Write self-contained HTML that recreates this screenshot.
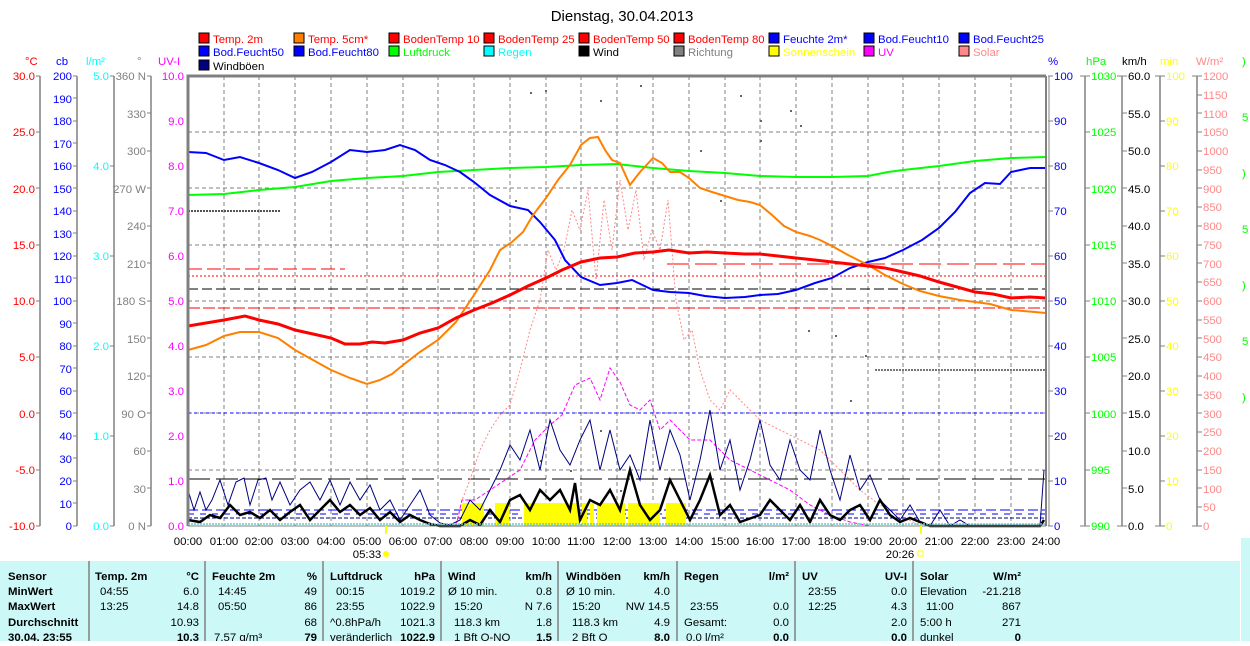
<!DOCTYPE html>
<html><head><meta charset="utf-8"><style>
body{margin:0;width:1250px;height:641px;overflow:hidden;background:#fff;font-family:"Liberation Sans",sans-serif}
svg text{font-family:"Liberation Sans",sans-serif;font-size:11.4px}
</style></head><body>
<svg width="1250" height="641" xmlns="http://www.w3.org/2000/svg">
<text x="622" y="21" text-anchor="middle" style="font-size:15px">Dienstag, 30.04.2013</text>
<!-- legend -->
<g stroke="#000" stroke-width="1">
<rect x="199" y="33" width="10" height="10" fill="#f00"/><rect x="294" y="33" width="10" height="10" fill="#ff8000"/><rect x="389" y="33" width="10" height="10" fill="#f00"/><rect x="484" y="33" width="10" height="10" fill="#f00"/><rect x="579" y="33" width="10" height="10" fill="#f00"/><rect x="674" y="33" width="10" height="10" fill="#f00"/><rect x="769" y="33" width="10" height="10" fill="#00f"/><rect x="864" y="33" width="10" height="10" fill="#00f"/><rect x="959" y="33" width="10" height="10" fill="#00f"/>
<rect x="199" y="46" width="10" height="10" fill="#00f"/><rect x="294" y="46" width="10" height="10" fill="#00f"/><rect x="389" y="46" width="10" height="10" fill="#0f0"/><rect x="484" y="46" width="10" height="10" fill="#0ff"/><rect x="579" y="46" width="10" height="10" fill="#000"/><rect x="674" y="46" width="10" height="10" fill="#808080"/><rect x="769" y="46" width="10" height="10" fill="#ff0"/><rect x="864" y="46" width="10" height="10" fill="#f0f"/><rect x="959" y="46" width="10" height="10" fill="#f88"/>
<rect x="199" y="60" width="10" height="10" fill="#000080"/>
</g>
<g>
<text x="213" y="43" fill="#f00">Temp. 2m</text><text x="308" y="43" fill="#f00">Temp. 5cm*</text><text x="403" y="43" fill="#f00">BodenTemp 10</text><text x="498" y="43" fill="#f00">BodenTemp 25</text><text x="593" y="43" fill="#f00">BodenTemp 50</text><text x="688" y="43" fill="#f00">BodenTemp 80</text><text x="783" y="43" fill="#00f">Feuchte 2m*</text><text x="878" y="43" fill="#00f">Bod.Feucht10</text><text x="973" y="43" fill="#00f">Bod.Feucht25</text>
<text x="213" y="56" fill="#00f">Bod.Feucht50</text><text x="308" y="56" fill="#00f">Bod.Feucht80</text><text x="403" y="56" fill="#0f0">Luftdruck</text><text x="498" y="56" fill="#0ff">Regen</text><text x="593" y="56" fill="#000">Wind</text><text x="688" y="56" fill="#808080">Richtung</text><text x="783" y="56" fill="#ff0">Sonnenschein</text><text x="878" y="56" fill="#f0f">UV</text><text x="973" y="56" fill="#f88">Solar</text>
<text x="213" y="70" fill="#000">Windböen</text>
</g>
<!-- unit labels -->
<text x="25" y="65" fill="#f00">°C</text><text x="56" y="65" fill="#00f">cb</text><text x="86" y="65" fill="#0ff">l/m²</text><text x="137" y="65" fill="#808080">°</text><text x="158" y="65" fill="#f0f">UV-I</text>
<text x="1048" y="65" fill="#00f">%</text><text x="1086" y="65" fill="#0f0">hPa</text><text x="1122" y="65" fill="#000">km/h</text><text x="1160" y="65" fill="#ff0">min</text><text x="1196" y="65" fill="#f88">W/m²</text>
<text x="1242" y="65" fill="#0f0">)</text><text x="1242" y="121" fill="#0f0">5</text><text x="1242" y="177" fill="#0f0">)</text><text x="1242" y="233" fill="#0f0">5</text><text x="1242" y="289" fill="#0f0">)</text><text x="1242" y="345" fill="#0f0">5</text><text x="1242" y="401" fill="#0f0">)</text>
<!-- axis lines -->
<g stroke="#808080" stroke-width="1.5">
<line x1="40" y1="76" x2="40" y2="526"/><line x1="77" y1="76" x2="77" y2="526"/><line x1="114" y1="76" x2="114" y2="526"/><line x1="151" y1="76" x2="151" y2="526"/>
<line x1="1085" y1="76" x2="1085" y2="526"/><line x1="1122" y1="76" x2="1122" y2="526"/><line x1="1160" y1="76" x2="1160" y2="526"/><line x1="1197" y1="76" x2="1197" y2="526"/>
</g>
<!-- plot grid -->
<g stroke="#808080" stroke-width="1" stroke-dasharray="4,3">
<line x1="188" y1="132" x2="1046" y2="132"/><line x1="188" y1="188" x2="1046" y2="188"/><line x1="188" y1="245" x2="1046" y2="245"/><line x1="188" y1="301" x2="1046" y2="301"/><line x1="188" y1="357" x2="1046" y2="357"/><line x1="188" y1="413" x2="1046" y2="413"/><line x1="188" y1="470" x2="1046" y2="470"/>
<line x1="224" y1="76" x2="224" y2="526"/><line x1="259" y1="76" x2="259" y2="526"/><line x1="295" y1="76" x2="295" y2="526"/><line x1="331" y1="76" x2="331" y2="526"/><line x1="367" y1="76" x2="367" y2="526"/><line x1="403" y1="76" x2="403" y2="526"/><line x1="438" y1="76" x2="438" y2="526"/><line x1="474" y1="76" x2="474" y2="526"/><line x1="510" y1="76" x2="510" y2="526"/><line x1="546" y1="76" x2="546" y2="526"/><line x1="581" y1="76" x2="581" y2="526"/><line x1="617" y1="76" x2="617" y2="526"/><line x1="653" y1="76" x2="653" y2="526"/><line x1="689" y1="76" x2="689" y2="526"/><line x1="725" y1="76" x2="725" y2="526"/><line x1="760" y1="76" x2="760" y2="526"/><line x1="796" y1="76" x2="796" y2="526"/><line x1="832" y1="76" x2="832" y2="526"/><line x1="868" y1="76" x2="868" y2="526"/><line x1="903" y1="76" x2="903" y2="526"/><line x1="939" y1="76" x2="939" y2="526"/><line x1="975" y1="76" x2="975" y2="526"/><line x1="1011" y1="76" x2="1011" y2="526"/>
</g>
<!-- ticks & labels left -->
<g text-anchor="end">
<g fill="#f00"><text x="35" y="80">30.0</text><text x="35" y="136">25.0</text><text x="35" y="193">20.0</text><text x="35" y="249">15.0</text><text x="35" y="305">10.0</text><text x="35" y="361">5.0</text><text x="35" y="418">0.0</text><text x="35" y="474">-5.0</text><text x="35" y="530">-10.0</text></g>
<g fill="#00f"><text x="72" y="80">200</text><text x="72" y="103">190</text><text x="72" y="125">180</text><text x="72" y="148">170</text><text x="72" y="170">160</text><text x="72" y="193">150</text><text x="72" y="215">140</text><text x="72" y="238">130</text><text x="72" y="260">120</text><text x="72" y="283">110</text><text x="72" y="305">100</text><text x="72" y="328">90</text><text x="72" y="350">80</text><text x="72" y="373">70</text><text x="72" y="395">60</text><text x="72" y="418">50</text><text x="72" y="440">40</text><text x="72" y="463">30</text><text x="72" y="485">20</text><text x="72" y="508">10</text><text x="72" y="530">0</text></g>
<g fill="#0ff"><text x="109" y="80">5.0</text><text x="109" y="170">4.0</text><text x="109" y="260">3.0</text><text x="109" y="350">2.0</text><text x="109" y="440">1.0</text><text x="109" y="530">0.0</text></g>
<g fill="#808080"><text x="146" y="80">360 N</text><text x="146" y="118">330</text><text x="146" y="155">300</text><text x="146" y="193">270 W</text><text x="146" y="230">240</text><text x="146" y="268">210</text><text x="146" y="305">180 S</text><text x="146" y="343">150</text><text x="146" y="380">120</text><text x="146" y="418">90  O</text><text x="146" y="455">60</text><text x="146" y="493">30</text><text x="146" y="530">0   N</text></g>
<g fill="#f0f"><text x="184" y="80">10.0</text><text x="184" y="125">9.0</text><text x="184" y="170">8.0</text><text x="184" y="215">7.0</text><text x="184" y="260">6.0</text><text x="184" y="305">5.0</text><text x="184" y="350">4.0</text><text x="184" y="395">3.0</text><text x="184" y="440">2.0</text><text x="184" y="485">1.0</text><text x="184" y="530">0.0</text></g>
</g>
<g>
<g fill="#00f"><text x="1054" y="80">100</text><text x="1054" y="125">90</text><text x="1054" y="170">80</text><text x="1054" y="215">70</text><text x="1054" y="260">60</text><text x="1054" y="305">50</text><text x="1054" y="350">40</text><text x="1054" y="395">30</text><text x="1054" y="440">20</text><text x="1054" y="485">10</text><text x="1054" y="530">0</text></g>
<g fill="#0f0"><text x="1091" y="80">1030</text><text x="1091" y="136">1025</text><text x="1091" y="193">1020</text><text x="1091" y="249">1015</text><text x="1091" y="305">1010</text><text x="1091" y="361">1005</text><text x="1091" y="418">1000</text><text x="1091" y="474">995</text><text x="1091" y="530">990</text></g>
<g fill="#000"><text x="1128" y="80">60.0</text><text x="1128" y="118">55.0</text><text x="1128" y="155">50.0</text><text x="1128" y="193">45.0</text><text x="1128" y="230">40.0</text><text x="1128" y="268">35.0</text><text x="1128" y="305">30.0</text><text x="1128" y="343">25.0</text><text x="1128" y="380">20.0</text><text x="1128" y="418">15.0</text><text x="1128" y="455">10.0</text><text x="1128" y="493">5.0</text><text x="1128" y="530">0.0</text></g>
<g fill="#ff0"><text x="1166" y="80">100</text><text x="1166" y="125">90</text><text x="1166" y="170">80</text><text x="1166" y="215">70</text><text x="1166" y="260">60</text><text x="1166" y="305">50</text><text x="1166" y="350">40</text><text x="1166" y="395">30</text><text x="1166" y="440">20</text><text x="1166" y="485">10</text><text x="1166" y="530">0</text></g>
<g fill="#f88"><text x="1203" y="80">1200</text><text x="1203" y="99">1150</text><text x="1203" y="118">1100</text><text x="1203" y="136">1050</text><text x="1203" y="155">1000</text><text x="1203" y="174">950</text><text x="1203" y="193">900</text><text x="1203" y="211">850</text><text x="1203" y="230">800</text><text x="1203" y="249">750</text><text x="1203" y="268">700</text><text x="1203" y="286">650</text><text x="1203" y="305">600</text><text x="1203" y="324">550</text><text x="1203" y="343">500</text><text x="1203" y="361">450</text><text x="1203" y="380">400</text><text x="1203" y="399">350</text><text x="1203" y="418">300</text><text x="1203" y="436">250</text><text x="1203" y="455">200</text><text x="1203" y="474">150</text><text x="1203" y="493">100</text><text x="1203" y="511">50</text><text x="1203" y="530">0</text></g>
</g>
<!-- tick marks -->
<g stroke="#808080" stroke-width="1">
<path d="M36 76h4M36 132h4M36 188h4M36 245h4M36 301h4M36 357h4M36 413h4M36 470h4M36 526h4"/>
<path d="M73 76h4M73 98h4M73 121h4M73 143h4M73 166h4M73 188h4M73 211h4M73 233h4M73 256h4M73 278h4M73 301h4M73 323h4M73 346h4M73 368h4M73 391h4M73 413h4M73 436h4M73 458h4M73 481h4M73 503h4M73 526h4"/>
<path d="M110 76h4M110 166h4M110 256h4M110 346h4M110 436h4M110 526h4"/>
<path d="M147 76h4M147 113h4M147 151h4M147 188h4M147 226h4M147 263h4M147 301h4M147 338h4M147 376h4M147 413h4M147 451h4M147 488h4M147 526h4"/>
<path d="M1048 76h5M1048 121h5M1048 166h5M1048 211h5M1048 256h5M1048 301h5M1048 346h5M1048 391h5M1048 436h5M1048 481h5M1048 526h5"/>
<path d="M1080 76h10M1085 132h5M1085 188h5M1085 245h5M1085 301h5M1085 357h5M1085 413h5M1085 470h5M1080 526h10"/>
<path d="M1117 76h10M1122 113h5M1122 151h5M1122 188h5M1122 226h5M1122 263h5M1122 301h5M1122 338h5M1122 376h5M1122 413h5M1122 451h5M1122 488h5M1117 526h10"/>
<path d="M1155 76h10M1160 121h5M1160 166h5M1160 211h5M1160 256h5M1160 301h5M1160 346h5M1160 391h5M1160 436h5M1160 481h5M1155 526h10"/>
<path d="M1192 76h10M1197 95h5M1197 113h5M1197 132h5M1197 151h5M1197 170h5M1197 188h5M1197 207h5M1197 226h5M1197 245h5M1197 263h5M1197 282h5M1197 301h5M1197 320h5M1197 338h5M1197 357h5M1197 376h5M1197 395h5M1197 413h5M1197 432h5M1197 451h5M1197 470h5M1197 488h5M1197 507h5M1192 526h10"/>
</g>
<!-- reference horizontal lines -->
<line x1="188" y1="413" x2="1046" y2="413" stroke="#00f" stroke-dasharray="3,3"/>
<line x1="188" y1="479" x2="1046" y2="479" stroke="#000" stroke-dasharray="22,6"/>
<line x1="188" y1="510" x2="1046" y2="510" stroke="#00f" stroke-dasharray="10,4"/>
<line x1="188" y1="514" x2="1046" y2="514" stroke="#00f" stroke-dasharray="6,6"/>
<line x1="188" y1="518" x2="1046" y2="518" stroke="#000080" stroke-dasharray="4,2"/>
<line x1="188" y1="269" x2="345" y2="269" stroke="#f00" stroke-dasharray="14,5"/>
<line x1="667" y1="264" x2="1046" y2="264" stroke="#f00" stroke-dasharray="22,6"/>
<line x1="188" y1="276" x2="1046" y2="276" stroke="#f00" stroke-dasharray="2,2"/>
<line x1="188" y1="289" x2="1046" y2="289" stroke="#000" stroke-dasharray="10,4"/>
<line x1="188" y1="308" x2="1046" y2="308" stroke="#f00" stroke-dasharray="12,3"/>
<line x1="188" y1="211" x2="280" y2="211" stroke="#555" stroke-dasharray="2,1" stroke-width="2"/>
<line x1="875" y1="370" x2="1046" y2="370" stroke="#777" stroke-dasharray="2,1" stroke-width="2"/>
<!-- sunshine -->
<g fill="#ff0">
<rect x="462" y="503" width="22" height="23"/><rect x="495" y="503" width="14" height="23"/><rect x="524" y="503" width="55" height="23"/><rect x="582" y="503" width="5" height="23"/><rect x="590" y="503" width="4" height="23"/><rect x="597" y="503" width="28" height="23"/><rect x="628" y="503" width="32" height="23"/><rect x="666" y="503" width="20" height="23"/>
</g>
<!-- solar -->
<polyline fill="none" stroke="#f88" stroke-dasharray="2,2" points="456,526 462,500 470,480 480,450 490,430 500,415 510,405 520,370 530,330 540,300 548,250 556,270 564,250 572,210 580,230 588,190 596,280 604,200 612,250 620,180 628,230 636,190 644,260 652,230 660,250 668,200 676,300 684,340 692,330 700,370 710,400 720,410 730,390 740,400 760,420 780,430 800,440 820,450 840,470 860,490 880,505 900,515 920,526"/>
<!-- UV -->
<polyline fill="none" stroke="#f0f" stroke-dasharray="4,2" points="456,526 462,500 475,500 490,490 505,480 520,470 535,440 550,425 562,415 575,385 590,378 600,400 610,368 620,382 630,405 640,410 650,400 660,430 670,420 690,440 710,440 730,460 750,470 770,480 790,490 810,505 830,515 850,522 870,526"/>
<!-- direction dots -->
<g fill="#666">
<rect x="530" y="92" width="2" height="2"/><rect x="545" y="90" width="2" height="2"/><rect x="600" y="100" width="2" height="2"/><rect x="640" y="85" width="2" height="2"/><rect x="700" y="150" width="2" height="2"/><rect x="720" y="200" width="2" height="2"/><rect x="760" y="140" width="2" height="2"/><rect x="790" y="110" width="2" height="2"/><rect x="800" y="125" width="2" height="2"/><rect x="835" y="335" width="2" height="2"/><rect x="850" y="400" width="2" height="2"/><rect x="865" y="355" width="2" height="2"/><rect x="515" y="200" width="2" height="2"/><rect x="600" y="430" width="2" height="2"/><rect x="620" y="490" width="2" height="2"/><rect x="570" y="470" width="2" height="2"/><rect x="540" y="460" width="2" height="2"/><rect x="808" y="330" width="2" height="2"/><rect x="760" y="120" width="2" height="2"/><rect x="740" y="95" width="2" height="2"/>
</g>
<!-- gusts -->
<polyline fill="none" stroke="#000080" stroke-width="1" points="188,490 194,510 200,492 206,510 212,500 220,480 228,505 236,482 244,478 250,505 258,480 266,478 272,500 280,482 290,505 300,490 310,482 320,500 330,480 340,505 350,482 360,500 370,485 380,510 390,500 400,520 410,505 420,490 430,515 440,523 450,525 460,520 470,500 480,510 490,490 500,470 510,445 520,460 530,430 540,470 550,420 560,450 570,465 580,440 590,420 600,470 610,430 620,470 630,455 640,480 650,420 660,470 670,430 680,455 690,500 700,460 710,410 720,470 730,440 740,490 750,460 760,420 770,465 780,480 790,440 800,470 810,480 820,430 830,470 840,500 850,455 860,490 870,475 880,500 890,510 900,520 910,505 920,522 930,526 940,510 950,526 960,520 970,526 1040,526 1044,470"/>
<!-- wind -->
<polyline fill="none" stroke="#000" stroke-width="2.5" points="188,520 200,522 210,515 220,518 230,505 240,515 250,512 260,518 270,510 280,520 290,512 300,505 310,520 320,510 330,500 340,512 350,505 360,515 370,508 380,520 390,512 400,522 410,515 420,520 430,524 440,526 460,526 470,520 480,525 490,510 500,522 510,500 520,495 530,510 540,490 550,500 560,490 570,510 575,483 580,520 590,500 600,505 610,490 620,510 630,470 640,505 650,520 660,510 670,480 680,500 690,520 700,500 710,475 720,515 730,505 740,522 760,515 770,500 780,510 790,520 800,505 810,522 820,500 830,515 840,520 850,510 860,505 870,520 880,500 890,515 900,522 910,518 930,526 1040,526 1044,520"/>
<!-- pressure -->
<polyline fill="none" stroke="#0f0" stroke-width="2" points="188,195 224,194 259,190 295,187 331,181 367,178 403,176 438,172 474,170 510,168 546,167 581,165 617,164 653,168 689,171 725,173 760,176 796,177 832,177 868,176 888,172 903,170 939,166 975,161 1011,158 1046,157"/>
<!-- humidity -->
<polyline fill="none" stroke="#00f" stroke-width="2" points="188,152 206,153 224,160 240,157 259,163 278,170 295,178 312,172 331,162 350,150 367,152 385,150 400,145 415,150 430,160 445,165 460,172 474,182 490,195 510,206 528,210 540,222 555,240 565,260 581,277 600,285 617,283 632,280 653,290 670,292 689,293 705,296 725,298 745,297 760,295 778,294 796,290 815,283 832,278 850,268 868,262 885,258 903,250 922,240 939,228 955,212 970,193 985,183 1000,184 1011,172 1030,168 1046,168"/>
<!-- temp 5cm -->
<polyline fill="none" stroke="#ff8000" stroke-width="2" points="188,350 206,345 224,336 240,332 259,332 278,338 295,350 313,360 331,370 350,378 367,384 380,380 392,374 403,365 420,352 438,340 456,322 474,295 490,270 500,250 512,242 523,232 533,215 546,198 558,180 570,165 581,145 590,138 598,137 605,150 612,160 620,163 630,185 640,172 653,158 662,163 670,172 680,172 689,178 700,188 712,192 725,196 738,200 750,202 760,205 772,215 784,226 796,232 810,236 820,240 832,246 848,255 868,265 885,275 903,284 920,291 939,296 960,300 990,304 1011,310 1046,313"/>
<!-- temp 2m -->
<polyline fill="none" stroke="#f00" stroke-width="3" points="188,326 206,323 224,320 245,316 259,320 278,324 295,330 313,334 331,338 345,344 360,344 372,342 385,343 403,340 420,333 438,328 456,318 474,310 492,303 510,295 528,286 546,278 562,270 581,262 600,258 617,257 635,253 653,252 669,250 689,253 707,252 725,253 745,254 760,254 778,256 796,258 815,260 832,262 850,264 868,266 885,268 903,272 920,276 939,282 957,287 975,292 993,294 1011,298 1030,297 1046,298"/>
<!-- frame -->
<path d="M188 526V76H1046" fill="none" stroke="#808080" stroke-width="3"/>
<line x1="1046" y1="76" x2="1046" y2="526" stroke="#808080" stroke-width="2"/>
<line x1="1049" y1="76" x2="1049" y2="526" stroke="#808080" stroke-width="1"/>
<line x1="188" y1="526" x2="1046" y2="526" stroke="#808080" stroke-width="1"/>
<line x1="188" y1="524" x2="1046" y2="524" stroke="#6cc" stroke-width="1.5" stroke-dasharray="2,1"/>
<!-- x labels -->
<g text-anchor="middle" fill="#000">
<text x="188" y="545">00:00</text><text x="224" y="545">01:00</text><text x="259" y="545">02:00</text><text x="295" y="545">03:00</text><text x="331" y="545">04:00</text><text x="367" y="545">05:00</text><text x="403" y="545">06:00</text><text x="438" y="545">07:00</text><text x="474" y="545">08:00</text><text x="510" y="545">09:00</text><text x="546" y="545">10:00</text><text x="581" y="545">11:00</text><text x="617" y="545">12:00</text><text x="653" y="545">13:00</text><text x="689" y="545">14:00</text><text x="725" y="545">15:00</text><text x="760" y="545">16:00</text><text x="796" y="545">17:00</text><text x="832" y="545">18:00</text><text x="868" y="545">19:00</text><text x="903" y="545">20:00</text><text x="939" y="545">21:00</text><text x="975" y="545">22:00</text><text x="1011" y="545">23:00</text><text x="1046" y="545">24:00</text>
<text x="367" y="558">05:33</text><text x="900" y="558">20:26</text>
</g>
<rect x="385" y="526" width="2" height="8" fill="#ff0"/><circle cx="386" cy="554" r="3" fill="#ff0"/>
<rect x="920" y="526" width="2" height="8" fill="#ff0"/><rect x="918" y="551" width="5" height="5" fill="none" stroke="#ff0"/>
<!-- table -->
<rect x="0" y="561" width="1240" height="80" fill="#ccf8f8"/>
<rect x="1241" y="538" width="9" height="103" fill="#ccf8f8"/>
<g stroke="#808080" stroke-width="1.5">
<line x1="89" y1="561" x2="89" y2="641"/><line x1="205" y1="561" x2="205" y2="641"/><line x1="323" y1="561" x2="323" y2="641"/><line x1="441" y1="561" x2="441" y2="641"/><line x1="558" y1="561" x2="558" y2="641"/><line x1="677" y1="561" x2="677" y2="641"/><line x1="795" y1="561" x2="795" y2="641"/><line x1="913" y1="561" x2="913" y2="641"/>
</g>
<g font-weight="bold">
<text x="8" y="580">Sensor</text><text x="8" y="595">MinWert</text><text x="8" y="610">MaxWert</text><text x="8" y="626">Durchschnitt</text><text x="8" y="641">30.04. 23:55</text>
<text x="95" y="580">Temp. 2m</text><text x="199" y="580" text-anchor="end">°C</text>
<text x="212" y="580">Feuchte 2m</text><text x="317" y="580" text-anchor="end">%</text>
<text x="330" y="580">Luftdruck</text><text x="435" y="580" text-anchor="end">hPa</text>
<text x="448" y="580">Wind</text><text x="552" y="580" text-anchor="end">km/h</text>
<text x="566" y="580">Windböen</text><text x="670" y="580" text-anchor="end">km/h</text>
<text x="684" y="580">Regen</text><text x="789" y="580" text-anchor="end">l/m²</text>
<text x="802" y="580">UV</text><text x="907" y="580" text-anchor="end">UV-I</text>
<text x="920" y="580">Solar</text><text x="1021" y="580" text-anchor="end">W/m²</text>
<text x="199" y="641" text-anchor="end">10.3</text><text x="317" y="641" text-anchor="end">79</text><text x="435" y="641" text-anchor="end">1022.9</text><text x="552" y="641" text-anchor="end">1.5</text><text x="670" y="641" text-anchor="end">8.0</text><text x="789" y="641" text-anchor="end">0.0</text><text x="907" y="641" text-anchor="end">0.0</text><text x="1021" y="641" text-anchor="end">0</text>
</g>
<g>
<text x="100" y="595">04:55</text><text x="199" y="595" text-anchor="end">6.0</text>
<text x="100" y="610">13:25</text><text x="199" y="610" text-anchor="end">14.8</text>
<text x="199" y="626" text-anchor="end">10.93</text>
<text x="218" y="595">14:45</text><text x="317" y="595" text-anchor="end">49</text>
<text x="218" y="610">05:50</text><text x="317" y="610" text-anchor="end">86</text>
<text x="317" y="626" text-anchor="end">68</text><text x="214" y="641">7.57 g/m³</text>
<text x="336" y="595">00:15</text><text x="435" y="595" text-anchor="end">1019.2</text>
<text x="336" y="610">23:55</text><text x="435" y="610" text-anchor="end">1022.9</text>
<text x="330" y="626">^0.8hPa/h</text><text x="435" y="626" text-anchor="end">1021.3</text><text x="330" y="641">veränderlich</text>
<text x="448" y="595">Ø 10 min.</text><text x="552" y="595" text-anchor="end">0.8</text>
<text x="454" y="610">15:20</text><text x="552" y="610" text-anchor="end">N 7.6</text>
<text x="454" y="626">118.3 km</text><text x="552" y="626" text-anchor="end">1.8</text><text x="454" y="641">1 Bft O-NO</text>
<text x="566" y="595">Ø 10 min.</text><text x="670" y="595" text-anchor="end">4.0</text>
<text x="572" y="610">15:20</text><text x="670" y="610" text-anchor="end">NW 14.5</text>
<text x="572" y="626">118.3 km</text><text x="670" y="626" text-anchor="end">4.9</text><text x="572" y="641">2 Bft O</text>
<text x="690" y="610">23:55</text><text x="789" y="610" text-anchor="end">0.0</text>
<text x="684" y="626">Gesamt:</text><text x="789" y="626" text-anchor="end">0.0</text><text x="686" y="641">0.0 l/m²</text>
<text x="808" y="595">23:55</text><text x="907" y="595" text-anchor="end">0.0</text>
<text x="808" y="610">12:25</text><text x="907" y="610" text-anchor="end">4.3</text>
<text x="907" y="626" text-anchor="end">2.0</text>
<text x="920" y="595">Elevation</text><text x="1021" y="595" text-anchor="end">-21.218</text>
<text x="926" y="610">11:00</text><text x="1021" y="610" text-anchor="end">867</text>
<text x="920" y="626">5:00 h</text><text x="1021" y="626" text-anchor="end">271</text><text x="920" y="641">dunkel</text>
</g>
</svg>
</body></html>
